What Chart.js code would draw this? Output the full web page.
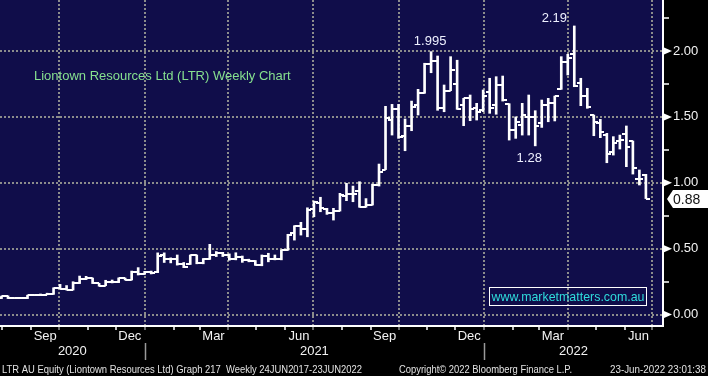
<!DOCTYPE html>
<html lang="en">
<head>
<meta charset="utf-8">
<title>Liontown Resources Ltd (LTR) Weekly Chart</title>
<script src="https://cdn.jsdelivr.net/npm/chart.js@4/dist/chart.umd.min.js"></script>
<style>
  html, body { margin: 0; padding: 0; background: #000; overflow: hidden; }
  canvas { display: block; }
</style>
</head>
<body>
<canvas id="ltrChart" width="708" height="376"></canvas>
<script>
const chartTitle = "Liontown Resources Ltd (LTR) Weekly Chart";
const firstWeek = "2020-07-31"; // weekly bars, one per week from here

const opens = [
  0.123, 0.140, 0.123, 0.123, 0.123, 0.146, 0.146, 0.152, 0.155, 0.198,
  0.194, 0.186, 0.237, 0.267, 0.275, 0.237, 0.219, 0.249, 0.244, 0.275,
  0.265, 0.325, 0.310, 0.322, 0.320, 0.450, 0.421, 0.421, 0.380, 0.385,
  0.450, 0.389, 0.421, 0.449, 0.464, 0.449, 0.421, 0.440, 0.414, 0.406,
  0.376, 0.446, 0.419, 0.419, 0.487, 0.620, 0.672, 0.650, 0.800, 0.850,
  0.800, 0.768, 0.785, 0.900, 0.914, 0.940, 0.818, 0.831, 0.983, 1.100,
  1.476, 1.557, 1.355, 1.431, 1.590, 1.680, 1.900, 1.926, 1.567, 1.699,
  1.750, 1.590, 1.641, 1.565, 1.550, 1.690, 1.590, 1.742, 1.600, 1.400,
  1.440, 1.500, 1.500, 1.450, 1.590, 1.603, 1.712, 1.919, 1.975, 1.755,
  1.660, 1.514, 1.450, 1.362, 1.235, 1.320, 1.368, 1.317, 1.026, 1.059
];
const highs = [
  0.140, 0.142, 0.128, 0.128, 0.147, 0.148, 0.156, 0.162, 0.203, 0.229,
  0.220, 0.249, 0.292, 0.290, 0.277, 0.237, 0.260, 0.262, 0.278, 0.277,
  0.330, 0.356, 0.328, 0.330, 0.468, 0.468, 0.430, 0.452, 0.395, 0.452,
  0.452, 0.425, 0.533, 0.478, 0.472, 0.460, 0.469, 0.444, 0.420, 0.410,
  0.452, 0.465, 0.452, 0.490, 0.609, 0.674, 0.700, 0.810, 0.861, 0.890,
  0.806, 0.806, 0.920, 0.996, 0.975, 1.008, 0.880, 0.990, 1.142, 1.580,
  1.595, 1.595, 1.484, 1.620, 1.709, 1.907, 1.995, 1.962, 1.742, 1.957,
  1.930, 1.641, 1.666, 1.603, 1.704, 1.793, 1.805, 1.810, 1.600, 1.500,
  1.603, 1.666, 1.547, 1.628, 1.641, 1.658, 1.957, 1.975, 2.190, 1.793,
  1.717, 1.514, 1.481, 1.375, 1.350, 1.362, 1.431, 1.317, 1.097, 1.064
];
const lows = [
  0.121, 0.121, 0.121, 0.121, 0.121, 0.144, 0.144, 0.150, 0.153, 0.194,
  0.186, 0.186, 0.235, 0.265, 0.235, 0.215, 0.219, 0.240, 0.242, 0.262,
  0.262, 0.300, 0.305, 0.308, 0.318, 0.395, 0.392, 0.375, 0.356, 0.380,
  0.385, 0.385, 0.418, 0.440, 0.440, 0.412, 0.415, 0.396, 0.400, 0.373,
  0.370, 0.400, 0.415, 0.415, 0.487, 0.565, 0.603, 0.590, 0.742, 0.780,
  0.760, 0.717, 0.785, 0.864, 0.856, 0.814, 0.814, 0.831, 0.975, 1.100,
  1.362, 1.337, 1.243, 1.395, 1.514, 1.679, 1.835, 1.550, 1.539, 1.699,
  1.557, 1.433, 1.471, 1.476, 1.540, 1.527, 1.520, 1.620, 1.324, 1.337,
  1.362, 1.362, 1.280, 1.420, 1.463, 1.469, 1.709, 1.818, 1.729, 1.585,
  1.565, 1.357, 1.342, 1.152, 1.210, 1.256, 1.122, 1.066, 0.983, 0.880
];
const closes = [
  0.140, 0.123, 0.123, 0.123, 0.146, 0.146, 0.152, 0.155, 0.198, 0.194,
  0.186, 0.237, 0.267, 0.275, 0.237, 0.219, 0.249, 0.244, 0.275, 0.265,
  0.325, 0.310, 0.322, 0.318, 0.445, 0.421, 0.421, 0.380, 0.360, 0.450,
  0.389, 0.421, 0.449, 0.464, 0.449, 0.421, 0.440, 0.414, 0.406, 0.376,
  0.446, 0.419, 0.419, 0.487, 0.603, 0.670, 0.650, 0.793, 0.856, 0.810,
  0.768, 0.785, 0.907, 0.914, 0.914, 0.818, 0.831, 0.983, 1.084, 1.489,
  1.557, 1.350, 1.431, 1.577, 1.684, 1.901, 1.926, 1.570, 1.699, 1.856,
  1.557, 1.641, 1.557, 1.540, 1.658, 1.565, 1.742, 1.628, 1.400, 1.463,
  1.514, 1.500, 1.430, 1.590, 1.603, 1.658, 1.919, 1.945, 1.734, 1.658,
  1.572, 1.463, 1.383, 1.218, 1.300, 1.324, 1.269, 1.114, 1.026, 0.880
];

const monthNames = ["Jan", "Feb", "Mar", "Apr", "May", "Jun", "Jul", "Aug", "Sep", "Oct", "Nov", "Dec"];
const labelledMonths = ["Mar", "Jun", "Sep", "Dec"];
const yearLabels = ["2020", "2021", "2022"];
const yMajorTicks = [0, 0.5, 1, 1.5, 2];
const yMinorTicks = [0.25, 0.75, 1.25, 1.75, 2.25];
const priceNotes = ["1.995", "2.19", "1.28"];
const noteBars = [66, 88, 82];
const website = "www.marketmatters.com.au";
const footerLeft = "LTR AU Equity (Liontown Resources Ltd) Graph 217  Weekly 24JUN2017-23JUN2022";
const footerMid = "Copyright\u00a9 2022 Bloomberg Finance L.P.";
const footerRight = "23-Jun-2022 23:01:38";

const FONT = "'Liberation Sans', Arial, sans-serif";
const GRID = "#8c8c8c";
const NAVY = "#100d4a";

// x axis works in days since 1 Jan 2020
const dayOf = (s) => (Date.parse(s + "T00:00:00Z") - Date.parse("2020-01-01T00:00:00Z")) / 86400000;
const pad2 = (n) => String(n).padStart(2, "0");
const weekDays = opens.map((_, i) => dayOf(firstWeek) + 7 * i);
const xMin = weekDays[0] - 1.6;
const xMax = xMin + 713;

const xTicks = [];
yearLabels.forEach((yr) => {
  monthNames.forEach((name, m) => {
    const start = dayOf(`${yr}-${pad2(m + 1)}-01`);
    if (start > xMin && start < xMax) {
      xTicks.push({ value: start, kind: m % 3 === 0 ? "quarter" : "month", label: "" });
    }
    if (labelledMonths.includes(name)) {
      const mid = dayOf(`${yr}-${pad2(m + 1)}-16`);
      if (mid > xMin && mid < xMax) xTicks.push({ value: mid, kind: "label", label: name });
    }
  });
});
xTicks.sort((a, b) => a.value - b.value);

const yearTicks = yearLabels.map((yr) => {
  const a = Math.max(dayOf(`${yr}-01-01`), xMin);
  const b = Math.min(dayOf(`${Number(yr) + 1}-01-01`), xMax);
  return { value: (a + b) / 2, label: yr };
});

const yTicks = [...yMajorTicks, ...yMinorTicks].sort((a, b) => a - b);

// little open / close tick images for the OHLC bars
const makeTick = (left) => {
  const c = document.createElement("canvas");
  c.width = 8;
  c.height = 2;
  const g = c.getContext("2d");
  g.fillStyle = "#ffffff";
  g.fillRect(left ? 0 : 4, 0, 4, 2);
  return c;
};
const openTick = makeTick(true);
const closeTick = makeTick(false);

const background = {
  id: "background",
  beforeDraw(chart) {
    const { ctx, chartArea: a } = chart;
    ctx.save();
    ctx.fillStyle = "#000000";
    ctx.fillRect(0, 0, chart.width, chart.height);
    ctx.fillStyle = NAVY;
    ctx.fillRect(a.left, a.top, a.right - a.left, a.bottom - a.top);
    ctx.restore();
  },
};

const overlay = {
  id: "overlay",
  afterDraw(chart) {
    const { ctx, chartArea: a } = chart;
    const xs = chart.scales.x;
    const ys = chart.scales.y;
    ctx.save();

    // title inside the plot
    ctx.font = `13px ${FONT}`;
    ctx.textBaseline = "alphabetic";
    ctx.textAlign = "left";
    ctx.fillStyle = "#86e08f";
    ctx.fillText(chartTitle, 34, 80);

    // price call-outs
    ctx.fillStyle = "#eef0ff";
    ctx.textAlign = "center";
    const offsets = [[-1, -7], [-20, -4], [-6, 16]];
    priceNotes.forEach((txt, k) => {
      const i = noteBars[k];
      const px = xs.getPixelForValue(weekDays[i]) + offsets[k][0];
      const py = ys.getPixelForValue(k === 2 ? lows[i] : highs[i]) + offsets[k][1];
      ctx.fillText(txt, px, py);
    });

    // website box
    ctx.strokeStyle = "#ffffff";
    ctx.lineWidth = 1;
    ctx.strokeRect(489.5, 287.5, 157, 18);
    ctx.fillStyle = "#2fdcdc";
    ctx.fillText(website, 568, 301, 153);

    // arrows on the major price ticks
    ctx.fillStyle = "#ffffff";
    yMajorTicks.forEach((v) => {
      const py = ys.getPixelForValue(v);
      ctx.beginPath();
      ctx.moveTo(a.right + 1, py - 3.5);
      ctx.lineTo(a.right + 9, py);
      ctx.lineTo(a.right + 1, py + 3.5);
      ctx.closePath();
      ctx.fill();
    });

    // last price marker
    const last = closes[closes.length - 1];
    const ly = Math.round(ys.getPixelForValue(last));
    ctx.beginPath();
    ctx.moveTo(a.right + 4, ly);
    ctx.lineTo(a.right + 10, ly - 9);
    ctx.lineTo(chart.width, ly - 9);
    ctx.lineTo(chart.width, ly + 9);
    ctx.lineTo(a.right + 10, ly + 9);
    ctx.closePath();
    ctx.fill();
    ctx.fillStyle = "#111111";
    ctx.textAlign = "left";
    ctx.font = `14px ${FONT}`;
    ctx.fillText(last.toFixed(2), a.right + 10, ly + 5);

    // year separators under the month row
    ctx.strokeStyle = "#9a9a9a";
    ctx.lineWidth = 1.5;
    yearLabels.slice(1).forEach((yr) => {
      const px = Math.round(xs.getPixelForValue(dayOf(`${yr}-01-01`))) + 0.5;
      ctx.beginPath();
      ctx.moveTo(px, 343);
      ctx.lineTo(px, 360);
      ctx.stroke();
    });

    // footer line
    ctx.font = `10.5px ${FONT}`;
    ctx.fillStyle = "#e2e2e2";
    ctx.textAlign = "left";
    ctx.fillText(footerLeft, 2, 373, 360);
    ctx.fillText(footerMid, 399, 373, 173);
    ctx.fillText(footerRight, 610, 373, 96);

    ctx.restore();
  },
};

Chart.defaults.font.family = FONT;

const ltrChart = new Chart(document.getElementById("ltrChart"), {
  type: "bar",
  data: {
    datasets: [
      {
        type: "bar",
        label: "High-Low",
        data: weekDays.map((d, i) => ({ x: d, y: [lows[i], highs[i]] })),
        backgroundColor: "#ffffff",
        borderWidth: 0,
        barThickness: 2,
        xAxisID: "x",
        yAxisID: "y",
      },
      {
        type: "line",
        label: "Open",
        data: weekDays.map((d, i) => ({ x: d, y: opens[i] })),
        showLine: false,
        pointStyle: openTick,
        pointRadius: 3,
        xAxisID: "x",
        yAxisID: "y",
      },
      {
        type: "line",
        label: "Close",
        data: weekDays.map((d, i) => ({ x: d, y: closes[i] })),
        showLine: false,
        pointStyle: closeTick,
        pointRadius: 3,
        xAxisID: "x",
        yAxisID: "y",
      },
    ],
  },
  options: {
    responsive: false,
    animation: false,
    events: [],
    layout: { autoPadding: false, padding: { left: 0, right: 0, top: 0, bottom: 16 } },
    plugins: {
      legend: { display: false },
      tooltip: { enabled: false },
    },
    scales: {
      x: {
        type: "linear",
        position: "bottom",
        weight: 0,
        offset: false,
        min: xMin,
        max: xMax,
        bounds: "data",
        afterBuildTicks: (axis) => {
          axis.ticks = xTicks.map((t) => ({ value: t.value }));
        },
        afterFit: (axis) => {
          axis.height = 16;
          axis.paddingLeft = 0;
          axis.paddingRight = 0;
        },
        ticks: {
          autoSkip: false,
          maxRotation: 0,
          minRotation: 0,
          padding: 0,
          color: "#f2f2f2",
          font: { size: 13, lineHeight: 1 },
          callback: (value, index) => xTicks[index].label,
        },
        grid: {
          offset: false,
          lineWidth: 2,
          color: (c) => (xTicks[c.index] && xTicks[c.index].kind === "quarter" ? GRID : "rgba(0,0,0,0)"),
          tickColor: (c) => {
            const k = xTicks[c.index] && xTicks[c.index].kind;
            if (k === "month") return "#ffffff";
            if (k === "quarter") return GRID;
            return "rgba(0,0,0,0)";
          },
          tickLength: 4,
          tickWidth: 1.5,
          tickBorderDash: [],
        },
        border: { color: "#ffffff", width: 2, dash: [2, 2] },
      },
      xYear: {
        type: "linear",
        axis: "x",
        position: "bottom",
        weight: 1,
        offset: false,
        min: xMin,
        max: xMax,
        bounds: "data",
        afterBuildTicks: (axis) => {
          axis.ticks = yearTicks.map((t) => ({ value: t.value }));
        },
        afterFit: (axis) => {
          axis.height = 18;
          axis.paddingLeft = 0;
          axis.paddingRight = 0;
        },
        ticks: {
          autoSkip: false,
          maxRotation: 0,
          minRotation: 0,
          padding: 3,
          color: "#f2f2f2",
          font: { size: 13, lineHeight: 1 },
          callback: (value, index) => yearTicks[index].label,
        },
        grid: { display: false, offset: false, drawTicks: false, tickLength: 0 },
        border: { display: false },
      },
      y: {
        type: "linear",
        position: "right",
        min: -0.087,
        max: 2.387,
        bounds: "data",
        afterBuildTicks: (axis) => {
          axis.ticks = yTicks.map((v) => ({ value: v }));
        },
        afterFit: (axis) => {
          axis.width = 45;
          axis.paddingTop = 0;
          axis.paddingBottom = 0;
        },
        ticks: {
          autoSkip: false,
          padding: 4,
          color: "#f4f4f4",
          font: { size: 13 },
          callback: (value) => (yMajorTicks.includes(value) ? value.toFixed(2) : ""),
        },
        grid: {
          lineWidth: 2,
          color: (c) => (c.tick && yMajorTicks.includes(c.tick.value) ? GRID : "rgba(0,0,0,0)"),
          tickColor: "#ffffff",
          tickLength: 6,
          tickWidth: 1.5,
          tickBorderDash: [],
        },
        border: { color: "#ffffff", width: 2, dash: [2, 2] },
      },
    },
  },
  plugins: [background, overlay],
});
</script>
</body>
</html>
